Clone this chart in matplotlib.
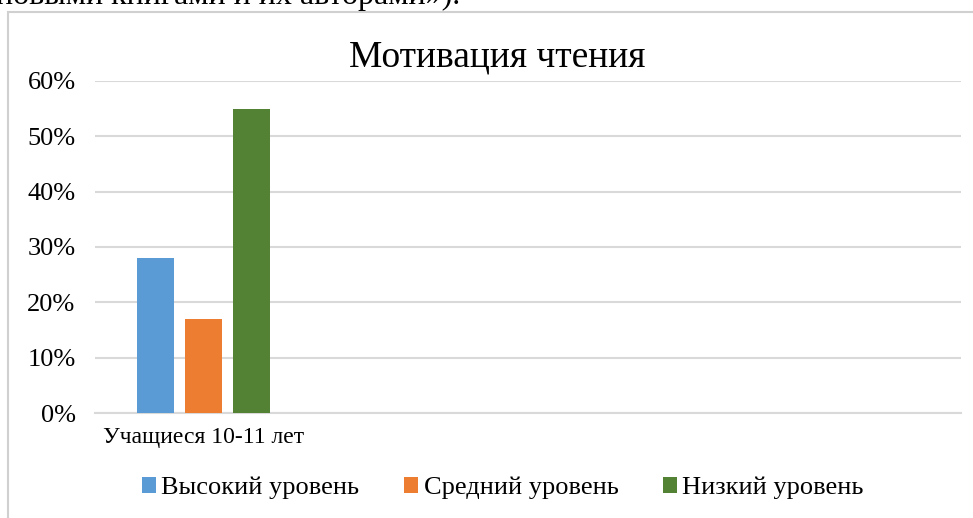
import matplotlib
matplotlib.use("Agg")
import matplotlib.pyplot as plt
from matplotlib.patches import Rectangle
from matplotlib.ticker import FuncFormatter
import numpy as np

categories = ["Учащиеся 10-11 лет", "", "", ""]
series_names = ["Высокий уровень", "Средний уровень", "Низкий уровень"]
high = [0.28, None, None, None]
mid = [0.17, None, None, None]
low = [0.55, None, None, None]
series_values = [high, mid, low]
colors = ["#5b9bd5", "#ed7d31", "#548235"]
title = "Мотивация чтения"
top_text = "новыми книгами и их авторами»)."

plt.rcParams['font.family'] = ['Liberation Serif', 'DejaVu Serif']

fig = plt.figure(figsize=(9.73, 5.18), dpi=100)
W, H = 973, 518

# chart border
fig.patches.append(Rectangle((8 / W, -0.1), 1.2, 1 - 12 / H + 0.1, transform=fig.transFigure,
                             fill=False, edgecolor="#d0d0d0", linewidth=1.5))
fig.text(-0.004, 1 - 4 / H, top_text, fontsize=23, ha="left", va="baseline", color="black")

ax = fig.add_axes([95 / W, 1 - 413 / H, (961 - 95) / W, (413 - 81) / H])
x = np.arange(len(categories))
bw = 0.171
step = 0.222
for i, (name, vals, c) in enumerate(zip(series_names, series_values, colors)):
    v = [np.nan if a is None else a for a in vals]
    ax.bar(x + (i - 1) * step, v, width=bw, color=c, label=name, zorder=3)

ax.set_xlim(-0.5, len(categories) - 0.5)
ax.set_ylim(0, 0.6)
ax.set_yticks(np.arange(0, 0.61, 0.1))
ax.yaxis.set_major_formatter(FuncFormatter(lambda v, p: f"{v*100:.0f}%"))
ax.set_xticks(x)
ax.set_xticklabels(categories, fontsize=17)
ax.tick_params(axis="both", length=0)
ax.tick_params(axis="y", labelsize=19, pad=14)
ax.tick_params(axis="x", pad=10)
ax.grid(axis="y", color="#d9d9d9", linewidth=1.5, zorder=0)
for s in ["top", "right", "left"]:
    ax.spines[s].set_visible(False)
ax.spines["bottom"].set_color("#d9d9d9")
ax.spines["bottom"].set_linewidth(1.5)

fig.text(497 / W, 1 - 57 / H, title, fontsize=27, ha="center", va="center")

fig.legend(loc="center", bbox_to_anchor=(503 / W, 1 - 488 / H), ncol=3, frameon=False,
           fontsize=19, handlelength=0.53, handleheight=0.53, handletextpad=0.2,
           columnspacing=1.7)

fig.savefig("out.png", dpi=100)
